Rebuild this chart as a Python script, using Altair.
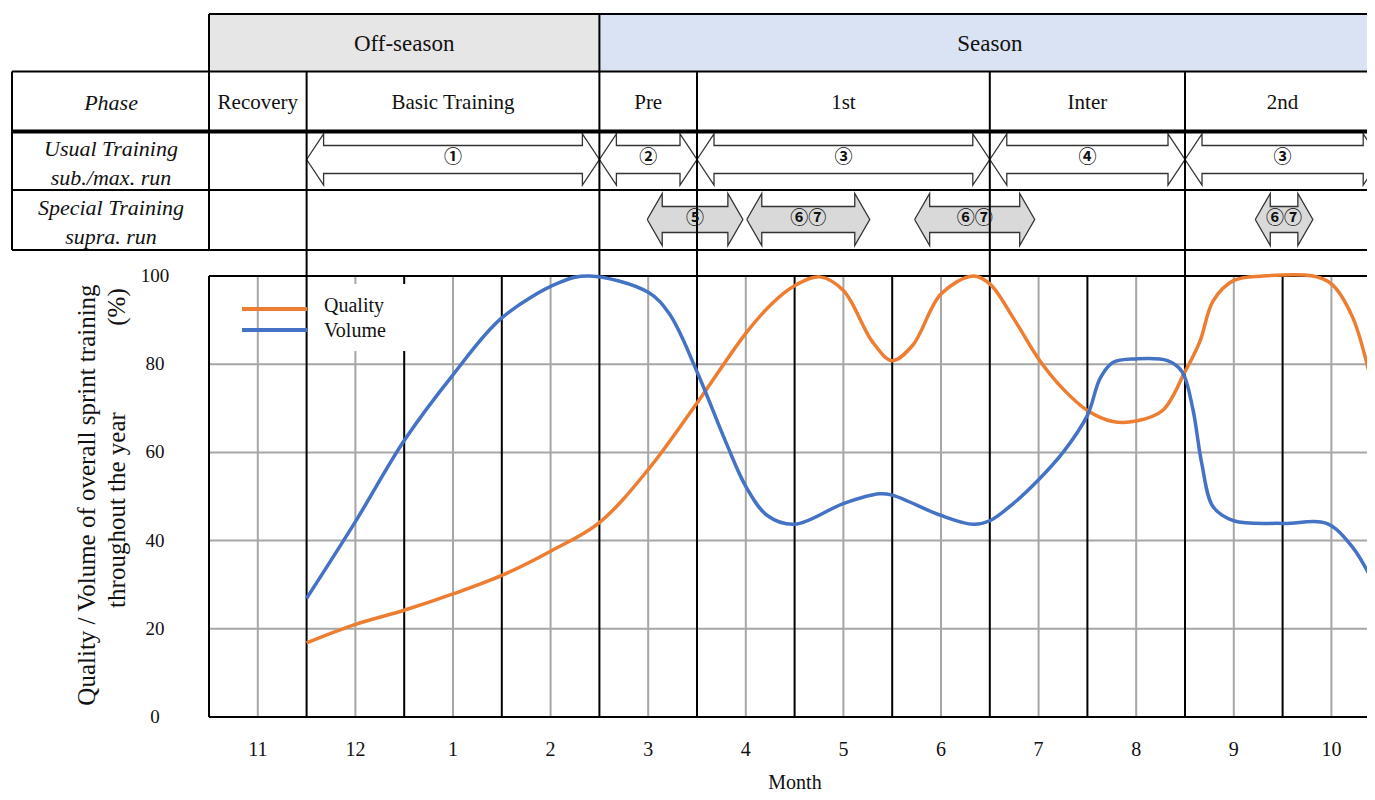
import altair as alt
import pandas as pd

# ---------------- data ----------------
month_labels = ["11", "12", "1", "2", "3", "4", "5", "6", "7", "8", "9", "10"]
y_ticks = [0, 20, 40, 60, 80, 100]

season_names = ["Off-season", "Season"]
season_start = [0, 4]
season_end = [4, 12]
season_fill = ["#e7e6e6", "#dae3f3"]

phase_names = ["Recovery", "Basic Training", "Pre", "1st", "Inter", "2nd"]
phase_start = [0, 1, 4, 5, 8, 10]
phase_end = [1, 4, 5, 8, 10, 12]

row_titles = ["Phase", "Usual Training", "sub./max. run", "Special Training", "supra. run"]

usual_labels = ["①", "②", "③", "④", "③"]
usual_start = [1, 4, 5, 8, 10]
usual_end = [4, 5, 8, 10, 12]

special_labels = ["⑤", "⑥⑦", "⑥⑦", "⑥⑦"]
special_start = [4.49, 5.51, 7.23, 10.72]
special_end = [5.47, 6.77, 8.46, 11.31]

series_names = ["Quality", "Volume"]
series_colors = ["#ed7d31", "#4472c4"]

quality_x = [1.0, 1.5, 2.0, 2.5, 3.0, 3.5, 4.0, 4.5, 5.0, 5.5, 5.78, 6.0, 6.26,
             6.5, 6.8, 7.0, 7.21, 7.5, 7.83, 8.0, 8.24, 8.5, 8.75, 9.0, 9.26, 9.5,
             9.77, 10.0, 10.15, 10.29, 10.5, 10.8, 11.31, 11.5, 11.72, 11.94, 12.0]
quality_y = [16.8, 21.0, 24.2, 27.9, 32.1, 37.6, 44.1, 56.1, 71.2, 87.0, 94.0, 97.8, 99.8,
             96.7, 85.0, 80.8, 84.3, 95.9, 100.0, 98.2, 90.5, 81.2, 74.4, 69.5, 67.0, 67.1,
             69.5, 78.3, 85.0, 94.4, 99.0, 100.0, 100.0, 98.2, 90.5, 73.3, 68.0]

volume_x = [1.0, 1.5, 2.0, 2.5, 3.0, 3.6, 3.9, 4.5, 4.72, 5.0, 5.3, 5.5, 5.72, 6.0,
            6.5, 6.87, 7.0, 7.5, 7.83, 8.0, 8.24, 8.5, 8.75, 9.0, 9.13, 9.26, 9.5,
            9.82, 9.97, 10.08, 10.17, 10.29, 10.5, 11.0, 11.45, 11.72, 11.94, 12.0]
volume_y = [26.9, 44.3, 62.7, 77.6, 90.5, 98.6, 100.0, 96.3, 91.3, 78.3, 62.1, 52.3, 45.7, 43.7,
            48.4, 50.6, 50.3, 45.7, 43.7, 44.5, 48.4, 53.8, 60.0, 68.4, 76.8, 80.4, 81.2,
            80.8, 78.3, 69.9, 57.7, 47.6, 44.5, 43.9, 43.9, 38.4, 30.2, 28.0]

# ---------------- layout (page pixels -> data units) ----------------
PX_PER_MONTH = 97.6
PX_PER_PCT = 4.41
X_ORIGIN = 209.0
Y_ZERO = 717.0
W, H = 1359, 784


def u(px):
    return (px - X_ORIGIN) / PX_PER_MONTH


def v(py):
    return (Y_ZERO - py) / PX_PER_PCT


XS = alt.Scale(domain=[u(8), u(8 + W)], nice=False, zero=False)
YS = alt.Scale(domain=[v(8 + H), v(8)], nice=False, zero=False)
FONT = "Liberation Serif, Times New Roman, serif"
NUM_FONT = "Noto Sans CJK JP, DejaVu Sans, sans-serif"

LEFT = u(12)
T_TOP, T_R1, T_R2, T_R3, T_R4 = v(14), v(71.5), v(131.5), v(190), v(250)


def X(f="x:Q"):
    return alt.X(f, scale=XS, axis=None)


def Y(f="y:Q"):
    return alt.Y(f, scale=YS, axis=None, stack=None)


def seg_chart(segs, color, width):
    df = pd.DataFrame(segs, columns=["x", "x2", "y", "y2"])
    return alt.Chart(df).mark_rule(color=color, strokeWidth=width).encode(
        x=X(), x2="x2:Q", y=Y(), y2="y2:Q")


def text_chart(xs, ys, texts, size, style="normal", align="center", angle=0, color="#111",
               font=FONT, weight="normal"):
    df = pd.DataFrame({"x": xs, "y": ys, "t": texts})
    return alt.Chart(df).mark_text(font=font, fontSize=size, fontStyle=style, align=align,
                                   fontWeight=weight, baseline="middle", angle=angle,
                                   color=color).encode(x=X(), y=Y(), text="t:N")


# season fills
season_rects = [
    alt.Chart(pd.DataFrame({"x": [s], "x2": [e], "y": [T_R1], "y2": [T_TOP]}))
    .mark_rect(color=c, clip=True).encode(x=X(), x2="x2:Q", y=Y(), y2="y2:Q")
    for s, e, c in zip(season_start, season_end, season_fill)
]

# gray grid
grid = [(0, 12, t, t) for t in y_ticks[1:-1]] + [(i + 0.5, i + 0.5, 0, 100) for i in range(12)]
grid_chart = seg_chart(grid, "#a6a6a6", 2)

# black lines
black = [(i, i, 0, 100) for i in range(1, 12)]
black += [(0, 12, 100, 100), (0, 12, 0, 0), (0, 0, 0, 100)]
black += [(0, 12, T_TOP, T_TOP), (LEFT, 12, T_R1, T_R1), (LEFT, 12, T_R3, T_R3), (LEFT, 12, T_R4, T_R4)]
black += [(0, 0, T_R4, T_TOP), (LEFT, LEFT, T_R4, T_R1), (4, 4, 100, T_TOP)]
black += [(b, b, 100, T_R1) for b in phase_start if b not in (0, 4)]
black_chart = seg_chart(black, "#000", 2)
thick_chart = seg_chart([(LEFT, 12, T_R2, T_R2)], "#000", 4)


# double-headed arrows as closed polygons
def arrow_df(starts, ends, cy_px, outer_px, body_px, head_px, tag):
    c = v(cy_px)
    oh, bh, h = outer_px / PX_PER_PCT, body_px / PX_PER_PCT, head_px / PX_PER_MONTH
    rows = []
    for i, (s, e) in enumerate(zip(starts, ends)):
        pts = [(s, c), (s + h, c + oh), (s + h, c + bh), (e - h, c + bh), (e - h, c + oh), (e, c),
               (e - h, c - oh), (e - h, c - bh), (s + h, c - bh), (s + h, c - oh), (s, c)]
        for k, (x, y) in enumerate(pts):
            rows.append({"id": f"{tag}{i}", "k": k, "x": x, "y": y})
    return pd.DataFrame(rows)


def arrow_chart(df, fill):
    return alt.Chart(df).mark_line(interpolate="linear", fill=fill, stroke="#333333",
                                   strokeWidth=1.3, clip=True).encode(
        x=X(), y=Y(), detail="id:N", order="k:Q")


usual_arrows = arrow_chart(arrow_df(usual_start, usual_end, 159.5, 25.5, 14, 17, "u"), "#ffffff")
special_arrows = arrow_chart(arrow_df(special_start, special_end, 219.5, 26, 13, 15, "s"), "#d9d9d9")

# texts
season_txt = text_chart([(a + b) / 2 for a, b in zip(season_start, season_end)], [v(44)] * 2,
                        season_names, 23)
phase_txt = text_chart([(a + b) / 2 for a, b in zip(phase_start, phase_end)], [v(103)] * 6,
                       phase_names, 21)
row_txt = text_chart([u(111)] * 5, [v(103), v(149), v(178), v(208), v(237)], row_titles, 22,
                     style="italic")
usual_txt = text_chart([(a + b) / 2 for a, b in zip(usual_start, usual_end)], [v(158)] * 5,
                       usual_labels, 18, font=NUM_FONT, color="#111", weight="bold")
special_txt = text_chart([(a + b) / 2 for a, b in zip(special_start, special_end)], [v(219)] * 4,
                         special_labels, 18, font=NUM_FONT, color="#111", weight="bold")
month_txt = text_chart([i + 0.5 for i in range(12)], [v(750)] * 12, month_labels, 20)
ytick_txt = text_chart([u(155)] * len(y_ticks), y_ticks, [str(t) for t in y_ticks], 19)
ytitle_txt = text_chart([u(87), u(117), u(117)], [v(495), v(510), v(307)],
                        ["Quality / Volume of overall sprint training", "throughout the year", "(%)"],
                        25, angle=270)
xtitle_txt = text_chart([u(795)], [v(783)], ["Month"], 20)

# legend
legend_box = alt.Chart(pd.DataFrame({"x": [u(312)], "x2": [u(412)], "y": [v(351)], "y2": [v(284)]})
                       ).mark_rect(color="white").encode(x=X(), x2="x2:Q", y=Y(), y2="y2:Q")
leg_df = pd.DataFrame({"x": [u(242)] * 2, "x2": [u(307)] * 2, "y": [v(309), v(330)],
                       "y2": [v(309), v(330)], "s": series_names})
series_scale = alt.Scale(domain=series_names, range=series_colors)
legend_lines = alt.Chart(leg_df).mark_rule(strokeWidth=4).encode(
    x=X(), x2="x2:Q", y=Y(), y2="y2:Q",
    color=alt.Color("s:N", scale=series_scale, legend=None))
legend_txt = text_chart([u(324)] * 2, [v(306), v(331)], series_names, 20, align="left")

# curves
curve_df = pd.concat([
    pd.DataFrame({"x": quality_x, "y": quality_y, "s": "Quality"}),
    pd.DataFrame({"x": volume_x, "y": volume_y, "s": "Volume"}),
])
curves = alt.Chart(curve_df).mark_line(interpolate="catmull-rom", strokeWidth=3.5, clip=True).encode(
    x=X(), y=Y(), color=alt.Color("s:N", scale=series_scale, legend=None))

chart = alt.layer(
    *season_rects, grid_chart, usual_arrows, special_arrows, black_chart, thick_chart,
    season_txt, phase_txt, row_txt, usual_txt, special_txt, month_txt, ytick_txt,
    ytitle_txt, xtitle_txt, legend_box, legend_lines, legend_txt, curves,
).properties(
    width=W, height=H, padding=0, autosize=alt.AutoSizeParams(type="none"), background="white"
).configure_view(stroke=None)

chart.save("out.html", embed_options={"renderer": "svg", "actions": False})
